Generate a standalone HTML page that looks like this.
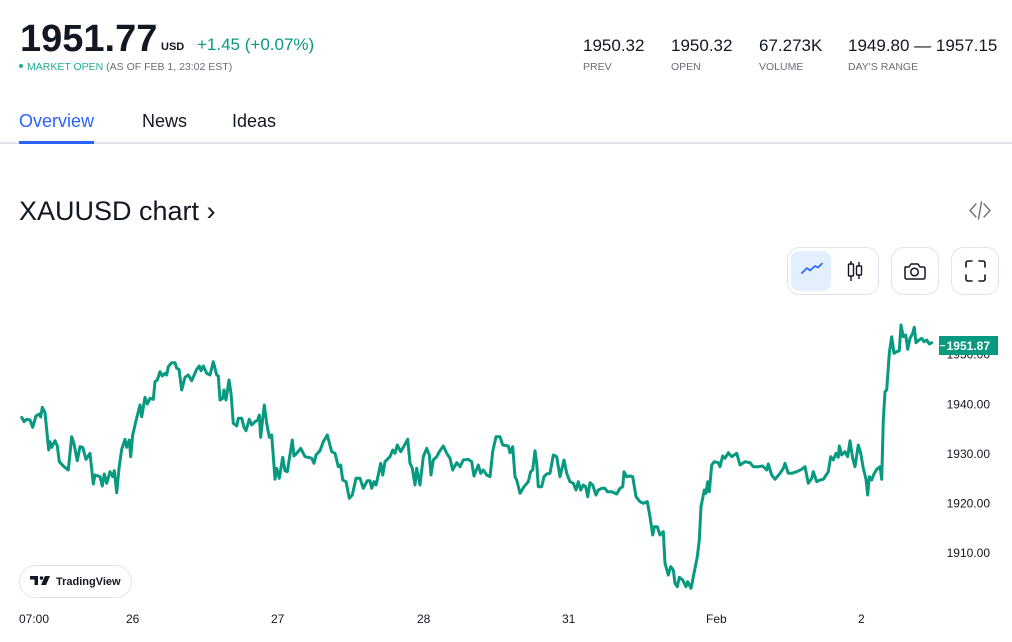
<!DOCTYPE html>
<html><head><meta charset="utf-8"><style>
html,body{margin:0;padding:0;background:#fff;width:1012px;height:642px;overflow:hidden}
svg{display:block}
text{font-family:"Liberation Sans",Arial,sans-serif}
</style></head><body>
<svg width="1012" height="642" viewBox="0 0 1012 642" xmlns="http://www.w3.org/2000/svg">
<!-- header -->
<text x="20" y="51" font-size="38" font-weight="bold" fill="#131722">1951.77</text>
<text x="161" y="50" font-size="11" font-weight="bold" fill="#131722">USD</text>
<text x="197" y="50" font-size="17" fill="#089981">+1.45 (+0.07%)</text>
<circle cx="21" cy="66" r="2" fill="#22ab94"/>
<text x="27" y="70" font-size="10.5" fill="#22ab94">MARKET OPEN <tspan fill="#6a6d78">(AS OF FEB 1, 23:02 EST)</tspan></text>

<g font-size="17" fill="#131722">
<text x="583" y="51">1950.32</text>
<text x="671" y="51">1950.32</text>
<text x="759" y="51">67.273K</text>
<text x="848" y="51">1949.80 — 1957.15</text>
</g>
<g font-size="10.5" fill="#6a6d78">
<text x="583" y="70">PREV</text>
<text x="671" y="70">OPEN</text>
<text x="759" y="70">VOLUME</text>
<text x="848" y="70">DAY'S RANGE</text>
</g>

<!-- tabs -->
<g font-size="18">
<text x="19" y="127" fill="#2962ff">Overview</text>
<text x="142" y="127" fill="#131722">News</text>
<text x="232" y="127" fill="#131722">Ideas</text>
</g>
<rect x="0" y="142" width="1012" height="2" fill="#e0e3eb"/>
<rect x="19" y="141" width="75" height="3" fill="#2962ff"/>

<!-- chart title -->
<text x="19" y="220" font-size="27" fill="#131722">XAUUSD chart ›</text>
<g fill="none" stroke="#6a6d78" stroke-width="1.4" stroke-linecap="round">
<path d="M976 204 L970 210.5 L976 217"/>
<path d="M984 204 L990 210.5 L984 217"/>
<path d="M981.5 202 L978.5 219"/>
</g>

<!-- buttons -->
<rect x="787.5" y="247.5" width="91" height="47" rx="12" fill="#fff" stroke="#e0e3eb"/>
<rect x="791" y="251" width="40" height="40" rx="8" fill="#e3effd"/>
<path d="M802 273 L807 268 L810 270.5 L815 266 L818 267.5 L822 263.5" fill="none" stroke="#2962ff" stroke-width="1.6" stroke-linecap="round" stroke-linejoin="round"/>
<g fill="none" stroke="#131722" stroke-width="1.4">
<line x1="851" y1="261" x2="851" y2="281"/>
<rect x="848.5" y="264" width="5" height="12" rx="1" fill="#fff"/>
<line x1="859" y1="262" x2="859" y2="279"/>
<rect x="856.5" y="266" width="5" height="9" rx="1" fill="#fff"/>
</g>
<rect x="891.5" y="247.5" width="47" height="47" rx="12" fill="#fff" stroke="#e0e3eb"/>
<g fill="none" stroke="#131722" stroke-width="1.5" stroke-linejoin="round">
<path d="M905 267 h4 l2 -3 h7 l2 3 h3.5 a1.5 1.5 0 0 1 1.5 1.5 v9 a1.5 1.5 0 0 1 -1.5 1.5 h-17 a1.5 1.5 0 0 1 -1.5 -1.5 v-9 a1.5 1.5 0 0 1 1.5 -1.5z"/>
<circle cx="914.5" cy="272" r="3.8"/>
</g>
<rect x="951.5" y="247.5" width="47" height="47" rx="12" fill="#fff" stroke="#e0e3eb"/>
<g fill="none" stroke="#131722" stroke-width="1.6" stroke-linecap="round">
<path d="M966 267 v-4 a2 2 0 0 1 2 -2 h4"/>
<path d="M979 261 h4 a2 2 0 0 1 2 2 v4"/>
<path d="M985 275 v4 a2 2 0 0 1 -2 2 h-4"/>
<path d="M972 281 h-4 a2 2 0 0 1 -2 -2 v-4"/>
</g>

<!-- y axis labels -->
<g font-size="12" fill="#131722" text-anchor="end">
<text x="990" y="358.5">1950.00</text>
<text x="990" y="408.5">1940.00</text>
<text x="990" y="458">1930.00</text>
<text x="990" y="507.5">1920.00</text>
<text x="990" y="557">1910.00</text>
</g>

<!-- series -->
<path fill="none" stroke="#089981" stroke-width="3" stroke-linejoin="round" stroke-linecap="round" d="
M21.7 417.3 L24 421.7 L26.7 419.3 L30 420 L32.7 427.3 L36 416 L39.3 414 L40.7 417 L42.3 407.3 L45 412.7 L48.7 450 L50 441.7 L51.7 447.3 L55 440.7 L57.3 446 L59.3 461.7 L64 466.7 L68.3 470 L71.7 436.7 L74 444 L77.3 460.7 L80 446.7 L82.7 447.3 L86 459.3 L90 453.3 L93.3 484 L95 475 L100 476.7 L102.3 486 L104.3 474 L106.7 483.3 L110 471.7 L112.7 476.7 L114.3 470.7 L116.7 492.7 L119 468.3 L121.7 449.3 L125 439.3 L126.7 447.3 L129.3 440 L130.7 456.7 L132.7 435 L136 420.7 L140 405 L141.7 416.7 L145 397.3 L147.3 404 L150 398.3 L153.3 399.3 L155 381.7 L157.3 380 L160 371.7 L162.3 376 L165 373.3 L166.7 375 L168.3 366.7 L171.7 362.7 L175 362.7 L176.7 368.3 L179 369.3 L181.7 390 L185 377.3 L188.3 375 L191.7 380.7 L196.7 369.3 L199.3 366 L201 370.7 L203.3 366 L206.7 373.3 L210 375 L213.3 361.7 L216.7 375 L218.3 376 L220 400 L222.7 398.3 L224 390 L226 400 L229 380 L231 393.3 L233.3 423.3 L236.7 426 L238.3 418.3 L241.7 418.3 L244 427.3 L246 430.7 L249.3 419.3 L251.7 425 L255 421.7 L257.7 420 L259.3 415 L260.7 437.3 L262.7 418.3 L264.3 405 L266.7 423.3 L269.3 437.3 L271.7 435 L275 479.3 L276.7 468.3 L279.3 478.3 L282.7 457.3 L285 470.7 L287.3 471.7 L292.3 440 L294 456 L296.7 453.3 L300.7 448.3 L305 456.7 L308.3 457.3 L311.7 458.3 L314 463.3 L316 455
L320 450.7 L323.3 441.7 L327.3 435 L331.7 451.7 L335 453.3 L338.3 466.7 L340.7 465 L342.7 480 L346 481.7 L349.3 498.3 L352.3 495 L356 478.3 L360 478.3 L363.3 488.3 L367.3 480.7 L370 480.7 L371.7 488.3 L374 481.7 L376 485 L378.3 475 L380.7 463.3 L382.7 475 L385 461.7 L390 456.7 L392.7 450 L395 453.3 L397.3 445 L400.7 451.7 L403.3 447.3 L407.7 439.3 L410 463.3 L412.3 468.3 L415 485 L416.7 468.3 L420 485 L423.3 456.7 L426.7 448.3 L429.3 455 L431 475 L433.3 460 L436.7 456.7 L439.3 451.7 L443.3 446 L446.7 453.3 L450 458.3 L452.7 470 L456.7 462.7 L460 466.7 L463.3 460 L468.3 459.3 L471.7 461.7 L474 476 L478.3 465 L480.7 473.3 L483.3 470 L486.7 475 L490 476.7 L492.7 451.7 L496 436.7 L500 436.7 L502.7 445 L508.3 446 L510 452.7 L512.7 446.7 L515 476.7 L516.7 480 L520 493.3 L524 486.7 L528.3 481.7 L530.7 471.7 L532.7 470 L535 450.7 L536.7 463.3 L538.3 486.7 L541.7 486.7 L544 476.7 L546.7 474 L550 473.3 L553.3 455 L556.7 456.7 L560 476.7 L564 460 L566.7 473.3 L570 481.7 L573.3 483.3 L576 490 L578.3 481.7 L580.7 490 L583.3 485 L585.7 486.7 L587.7 496.7 L590 482.7 L592.7 485 L596 495 L598.3 490 L601.7 488.3 L605 488.3 L607.3 491.7 L611.7 491.7 L616.7 494
L620 488.3 L622.7 486.7 L624 471.7 L626.7 476.7 L630 476 L632.7 476.7 L636 496.7 L640 501.7 L643.3 503.3 L647.3 501.7 L650 516.7 L652.7 535 L654.3 526.7 L657.3 526.7 L660 535 L663.3 531.7 L665 563.3 L668.3 575 L670.7 566.7 L673.3 570 L675 583.3 L677.3 586.7 L679.3 577.3 L682.7 580 L686 586.7 L687.7 581.7 L691 588.3 L694 573.3 L697.3 556.7 L699.3 540 L701 506.7 L704.3 490 L706 493.3 L707.7 481.7 L709.3 491.7 L711.7 465 L714.3 461.7 L718.3 462.7 L720 466.7 L722.7 456 L725 458.3 L728.3 452.7 L731.7 456.7 L736.7 453.3 L740 465 L745 461.7 L750 462.7 L753.3 466.7 L758.3 466.7 L762.7 466 L766.7 470 L768.3 464 L771.7 475 L775 479.3 L780 473.3 L783.3 468.3 L785 463.3 L788.3 473.3 L791.7 473.3 L796.7 471.7 L801.7 469.3 L805 466.7 L808.3 483.3 L811.7 478.3 L813.3 471.7 L816.7 481.7 L820 480 L823.3 479.3 L828.3 471.7 L830.7 456.7 L833.3 460 L836 453.3 L838.3 457.3 L839.3 446 L841.7 455 L845 451.7 L847.7 456.7 L850 440.7 L852.7 458.3 L855 466.7 L858.3 445 L860.7 453.3 L863.3 468.3 L866 479.3 L867.7 495 L869.3 476.7 L871.7 480 L874 474 L876.7 469.3 L880 466.7 L881.7 479.3 L883.3 420 L885 391.7 L886.7 390 L889.3 353.3 L891.7 336.7 L894 353.3 L896.7 351.7 L899.3 350.7 L901 325 L903.3 336.7 L905.7 335 L907.7 349.3 L910 338.3 L912.7 333.3 L914.3 327.3 L916 342.7 L919 340 L921.7 338.3 L924 341.7 L926.7 340 L929.3 344 L931.7 342.7"/>

<!-- last price label -->
<rect x="939" y="336" width="59" height="19" fill="#089981"/>
<rect x="940" y="345" width="5" height="1.2" fill="#fff"/>
<text x="990" y="350" font-size="12" font-weight="bold" fill="#fff" text-anchor="end">1951.87</text>

<!-- tradingview logo -->
<rect x="19.5" y="565.5" width="112" height="32" rx="16" fill="#fff" stroke="#e0e3eb"/>
<g fill="#131722">
<path d="M30 576 h8 v9 h-3.5 v-5.5 h-4.5z"/>
<circle cx="41.5" cy="578" r="1.8"/>
<path d="M45 576 h5 l-4 9 h-5z"/>
</g>
<text x="56" y="585" font-size="11" font-weight="bold" fill="#131722">TradingView</text>

<!-- x axis labels -->
<g font-size="12" fill="#131722">
<text x="19" y="623">07:00</text>
<text x="126" y="623">26</text>
<text x="271" y="623">27</text>
<text x="417" y="623">28</text>
<text x="562" y="623">31</text>
<text x="706" y="623">Feb</text>
<text x="858" y="623">2</text>
</g>
</svg>
</body></html>
